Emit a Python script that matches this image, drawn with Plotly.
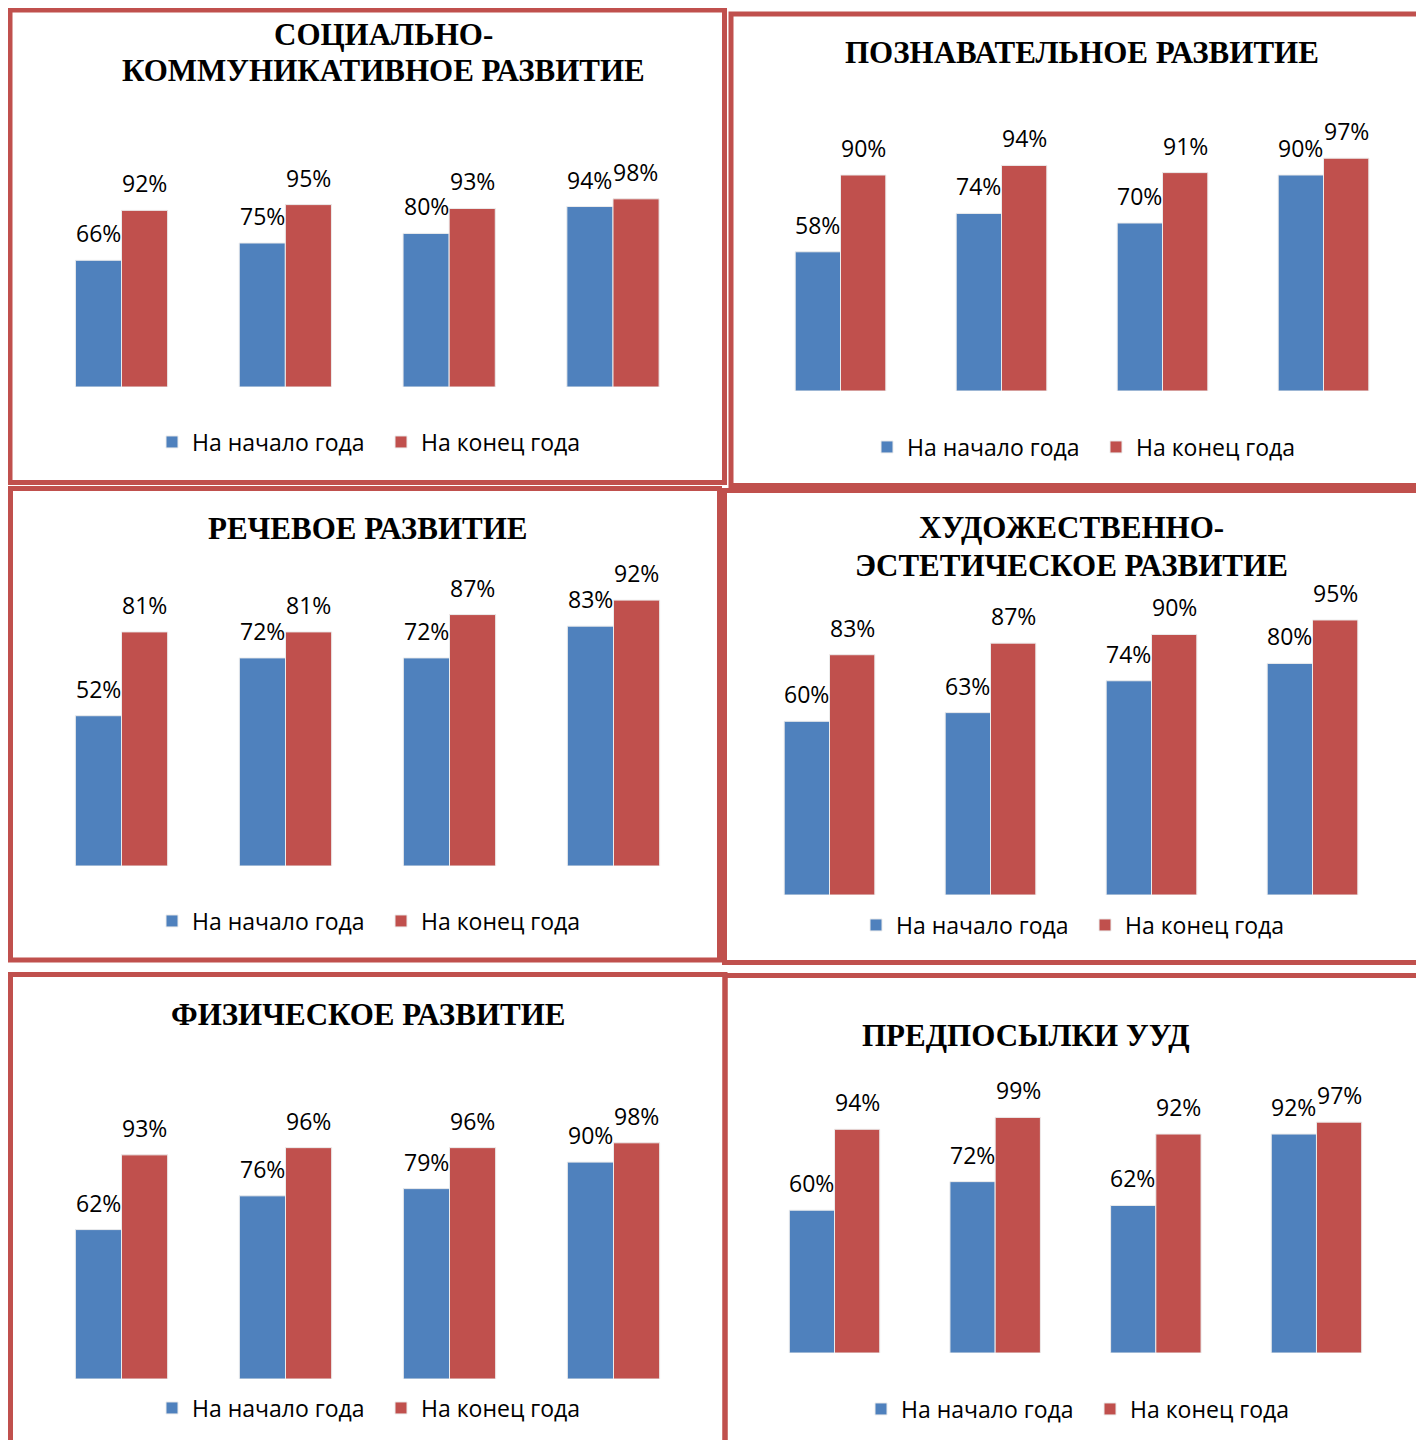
import plotly.graph_objects as go

# The page body has an 8px margin, so the figure starts at (8, 8) in the window.
OFF = 8
W, H = 1424 - OFF, 1440 - OFF

categories = ["Группа 1", "Группа 2", "Группа 3", "Группа 4"]
series_names = ["На начало года", "На конец года"]
series_colors = ["#4F81BD", "#C0504D"]

title_social = ["СОЦИАЛЬНО-", "КОММУНИКАТИВНОЕ РАЗВИТИЕ"]
title_cognitive = ["ПОЗНАВАТЕЛЬНОЕ РАЗВИТИЕ"]
title_speech = ["РЕЧЕВОЕ РАЗВИТИЕ"]
title_art = ["ХУДОЖЕСТВЕННО-", "ЭСТЕТИЧЕСКОЕ РАЗВИТИЕ"]
title_physical = ["ФИЗИЧЕСКОЕ РАЗВИТИЕ"]
title_uud = ["ПРЕДПОСЫЛКИ УУД"]

social_start = [66, 75, 80, 94]
social_end = [92, 95, 93, 98]
cognitive_start = [58, 74, 70, 90]
cognitive_end = [90, 94, 91, 97]
speech_start = [52, 72, 72, 83]
speech_end = [81, 81, 87, 92]
art_start = [60, 63, 74, 80]
art_end = [83, 87, 90, 95]
physical_start = [62, 76, 79, 90]
physical_end = [93, 96, 96, 98]
uud_start = [60, 72, 62, 92]
uud_end = [94, 99, 92, 97]

# layout geometry (window pixels): plot x-range, baseline, top of 100%, title lines, legend, border box
panels = [
    dict(title=title_social, start=social_start, end=social_end,
         x0=39.6, x1=694.9, base=387, top=195, tx=383, ty=[35, 71],
         lx=152, ly=442, box=(10, 10, 724.5, 482.5)),
    dict(title=title_cognitive, start=cognitive_start, end=cognitive_end,
         x0=760, x1=1404, base=391, top=151, tx=1082, ty=[52],
         lx=867, ly=447, box=(731, 14, 1429, 485.5)),
    dict(title=title_speech, start=speech_start, end=speech_end,
         x0=39.5, x1=695.5, base=866, top=577, tx=367, ty=[528],
         lx=152, ly=921, box=(10.5, 488.5, 719.5, 960)),
    dict(title=title_art, start=art_start, end=art_end,
         x0=749, x1=1393, base=895, top=605.5, tx=1071, ty=[527, 565],
         lx=856, ly=925, box=(724.5, 490.5, 1420.5, 962.5)),
    dict(title=title_physical, start=physical_start, end=physical_end,
         x0=39.5, x1=695.5, base=1379, top=1138, tx=368, ty=[1014],
         lx=152, ly=1408, box=(10.5, 974.5, 725, 1450)),
    dict(title=title_uud, start=uud_start, end=uud_end,
         x0=754.2, x1=1396.8, base=1353, top=1115, tx=1026, ty=[1035],
         lx=861, ly=1409, box=(725, 975.5, 1425.5, 1450)),
]


def px(x):
    return (x - OFF) / W


def py(y):
    return 1 - (y - OFF) / H


fig = go.Figure()
layout = dict(
    width=W, height=H,
    margin=dict(l=0, r=0, t=0, b=0),
    paper_bgcolor="white", plot_bgcolor="white",
    barmode="group", bargap=0.437, bargroupgap=0.0,
    showlegend=True,
    font=dict(family="Open Sans, Lato, sans-serif", color="black"),
)
annotations = []
shapes = []

for i, p in enumerate(panels, start=1):
    sfx = "" if i == 1 else str(i)
    xa, ya = "x" + sfx, "y" + sfx
    leg = "legend" + sfx
    for name, vals, col in zip(series_names, [p["start"], p["end"]], series_colors):
        fig.add_trace(go.Bar(
            x=categories, y=vals, name=name, xaxis=xa, yaxis=ya, legend=leg,
            marker=dict(color=col, line=dict(color="#ececec", width=1)),
            hoverinfo="skip",
        ))
    layout["xaxis" + sfx] = dict(
        domain=[px(p["x0"]), px(p["x1"])], anchor=ya, type="category",
        range=[-0.5, 3.5], showticklabels=False, showgrid=False,
        zeroline=False, showline=False, ticks="", fixedrange=True)
    layout["yaxis" + sfx] = dict(
        domain=[py(p["base"]), py(p["top"])], anchor=xa,
        range=[0, 100], showticklabels=False, showgrid=False,
        zeroline=False, showline=False, ticks="", fixedrange=True)
    layout[leg] = dict(
        orientation="h", x=px(p["lx"]), y=py(p["ly"]),
        xanchor="left", yanchor="middle", xref="paper", yref="paper",
        font=dict(family="Open Sans, Lato, sans-serif", size=23, color="black"),
        entrywidth=184, entrywidthmode="pixels",
        bgcolor="rgba(0,0,0,0)", itemclick=False, itemdoubleclick=False,
        traceorder="normal",
    )
    # data labels
    for vals, shift in [(p["start"], -23), (p["end"], 23)]:
        for c, v in zip(categories, vals):
            annotations.append(dict(
                x=c, y=v, xref=xa, yref=ya, text=f"{v}%", showarrow=False,
                xshift=shift, yshift=27, yanchor="middle", xanchor="center",
                font=dict(family="Open Sans, Lato, sans-serif", size=23, color="black"),
            ))
    # title lines
    for line, ty in zip(p["title"], p["ty"]):
        annotations.append(dict(
            x=px(p["tx"]), y=py(ty), xref="paper", yref="paper",
            text=f"<b>{line}</b>", showarrow=False, xanchor="center", yanchor="middle",
            font=dict(family="Liberation Serif, Times New Roman, serif", size=31, color="black"),
        ))
    bx0, by0, bx1, by1 = p["box"]
    shapes.append(dict(
        type="rect", xref="paper", yref="paper",
        x0=px(bx0), x1=px(bx1), y0=py(by1), y1=py(by0),
        line=dict(color="#C0504D", width=5), fillcolor="rgba(0,0,0,0)", layer="above",
    ))

layout["annotations"] = annotations
layout["shapes"] = shapes
fig.update_layout(**layout)
fig.write_html("out.html")
